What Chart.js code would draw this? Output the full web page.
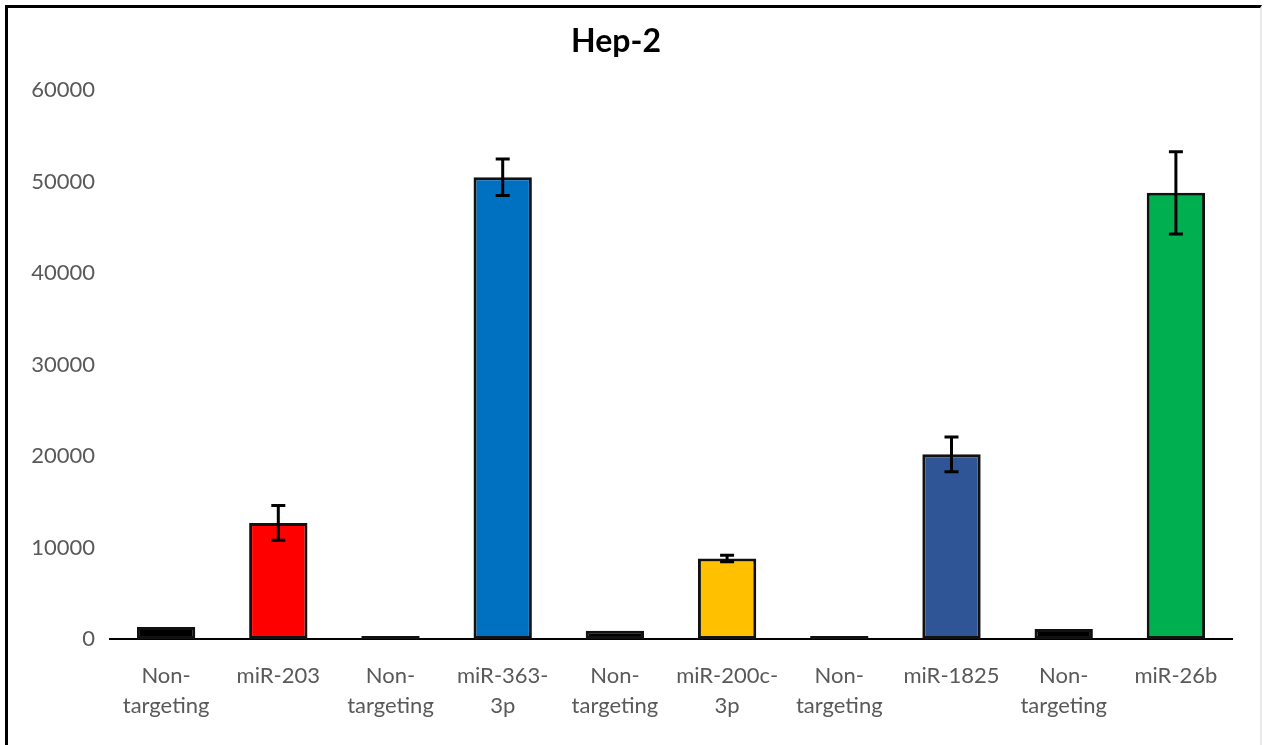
<!DOCTYPE html>
<html>
<head>
<meta charset="utf-8">
<script src="https://cdn.jsdelivr.net/npm/chart.js@4.4.0/dist/chart.umd.min.js"></script>
<style>
  html, body { margin: 0; padding: 0; background: #fff; width: 1270px; height: 745px; overflow: hidden; }
  #frame {
    position: absolute; left: 5px; top: 5px; width: 1252px; height: 760px;
    border-top: 3px solid #000; border-left: 3px solid #000; border-right: 2px solid #e8e8e8;
  }
  #wrap { position: absolute; left: 0; top: 0; width: 1270px; height: 745px; }
</style>
</head>
<body>
<div id="frame"></div>
<div id="wrap"><canvas id="chart" width="1270" height="745"></canvas></div>
<script>
// Hep-2 expression per construct, with paired non-targeting controls
const categories = [
  ["Non-", "targeting"], "miR-203",
  ["Non-", "targeting"], ["miR-363-", "3p"],
  ["Non-", "targeting"], ["miR-200c-", "3p"],
  ["Non-", "targeting"], "miR-1825",
  ["Non-", "targeting"], "miR-26b"
];
const values = [1300, 12700, 330, 50500, 900, 8800, 330, 20200, 1100, 48800];
const errors = [0, 1900, 0, 2000, 0, 350, 0, 1900, 0, 4500];
const barColors = ["#000000", "#FF0000", "#000000", "#0070C0", "#000000",
                   "#FFC000", "#000000", "#2F5597", "#000000", "#00B050"];
const yTicks = [0, 10000, 20000, 30000, 40000, 50000, 60000];

const tickFont = { family: "Lato, 'Open Sans', sans-serif", size: 22, lineHeight: 1.35 };

// Symmetric error bars drawn on top of each bar, through the chart's scales
const errorBars = {
  id: "errorBars",
  afterDatasetsDraw(chart) {
    const { ctx, scales: { y } } = chart;
    const meta = chart.getDatasetMeta(0);
    ctx.save();
    ctx.strokeStyle = "#000";
    ctx.lineWidth = 3;
    meta.data.forEach((bar, i) => {
      const e = errors[i];
      if (!e) return;
      const x = bar.x;
      const yTop = y.getPixelForValue(values[i] + e);
      const yBot = y.getPixelForValue(values[i] - e);
      const cap = 7;
      ctx.beginPath();
      ctx.moveTo(x, yTop); ctx.lineTo(x, yBot);
      ctx.moveTo(x - cap, yTop); ctx.lineTo(x + cap, yTop);
      ctx.moveTo(x - cap, yBot); ctx.lineTo(x + cap, yBot);
      ctx.stroke();
    });
    ctx.restore();
  }
};

new Chart(document.getElementById("chart"), {
  type: "bar",
  data: {
    labels: categories,
    datasets: [{
      data: values,
      backgroundColor: barColors,
      borderColor: "#111111",
      borderWidth: 3,
      borderSkipped: false,
      categoryPercentage: 1,
      barPercentage: 0.52
    }]
  },
  options: {
    responsive: false,
    animation: false,
    layout: { padding: { top: 22, right: 38, bottom: 0, left: 0 } },
    plugins: {
      legend: { display: false },
      tooltip: { enabled: false },
      title: {
        display: true,
        text: "Hep-2",
        color: "#000",
        font: { family: "Lato, 'Open Sans', sans-serif", size: 32, weight: "bold" },
        padding: { top: 0, bottom: 30 }
      }
    },
    scales: {
      x: {
        grid: { display: false, drawTicks: false },
        border: { display: true, color: "#000", width: 2 },
        ticks: { color: "#595959", font: tickFont, padding: 22, maxRotation: 0, autoSkip: false },
        afterFit(scale) { scale.height = 106; }
      },
      y: {
        min: 0, max: 60000,
        afterBuildTicks(scale) { scale.ticks = yTicks.map(v => ({ value: v })); },
        grid: { display: false, drawTicks: false },
        border: { display: false },
        ticks: {
          color: "#595959",
          font: { family: "Lato, 'Open Sans', sans-serif", size: 22 },
          padding: 15,
          callback: v => String(v)
        },
        afterFit(scale) { scale.width = 110; }
      }
    }
  },
  plugins: [errorBars]
});
</script>
</body>
</html>
